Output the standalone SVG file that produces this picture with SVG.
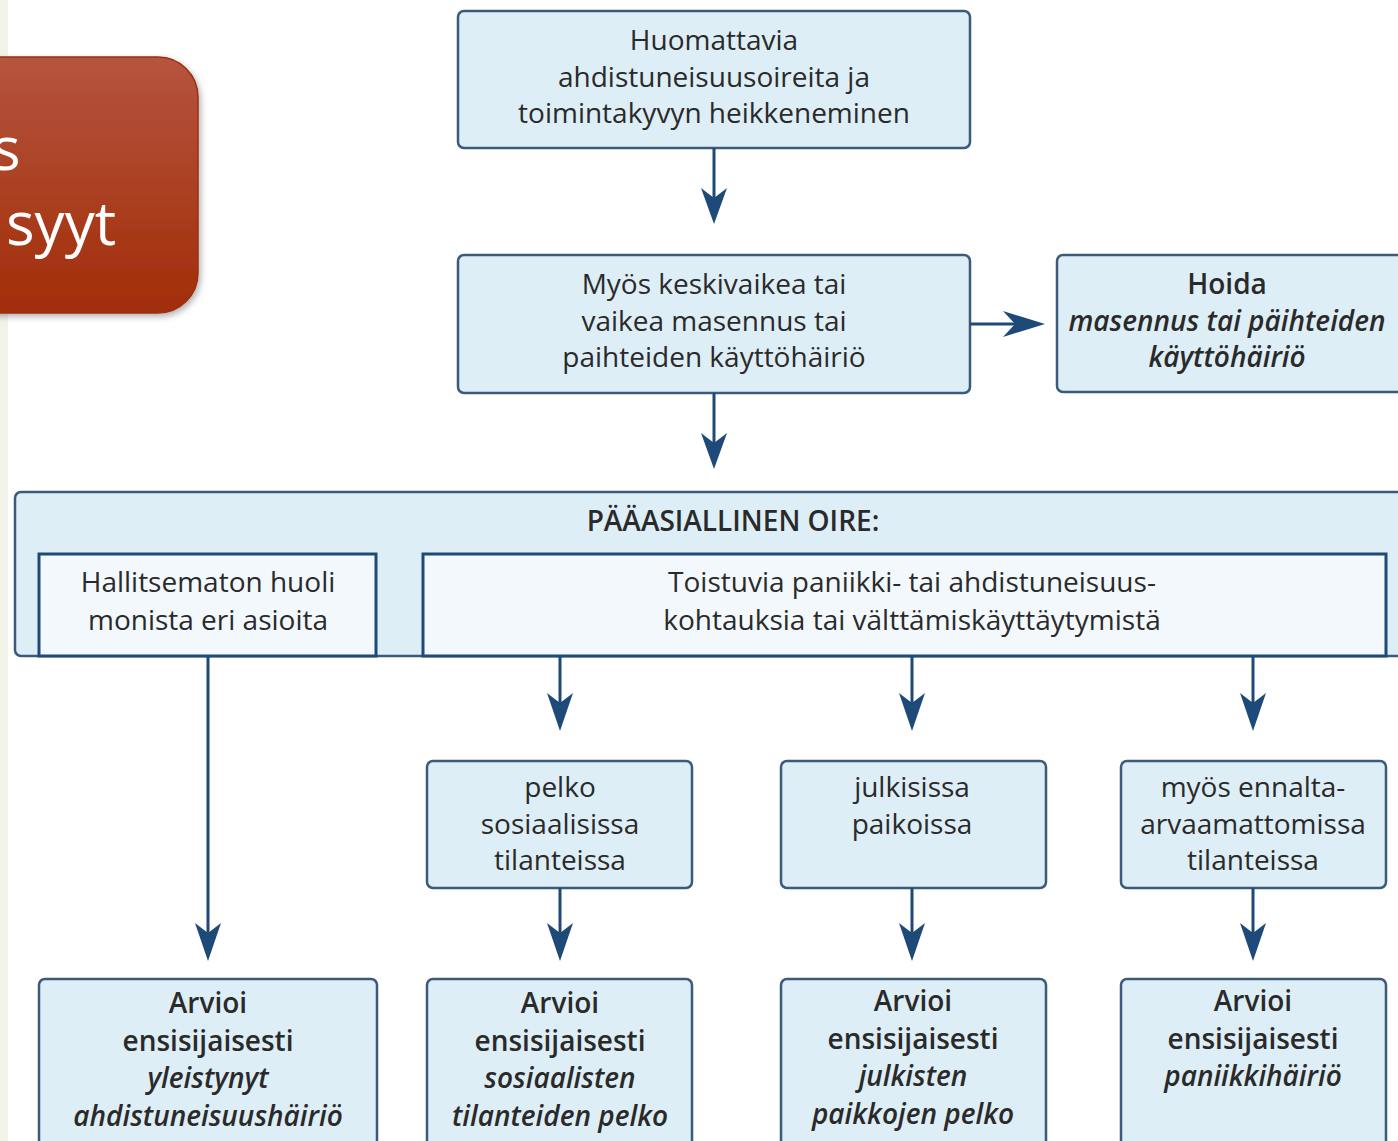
<svg xmlns="http://www.w3.org/2000/svg" width="1398" height="1141" viewBox="0 0 1398 1141">
<defs>
<linearGradient id="red" x1="0" y1="0" x2="0" y2="1">
<stop offset="0" stop-color="#b6543f"/>
<stop offset="1" stop-color="#a12d08"/>
</linearGradient>
<filter id="sh" x="-10%" y="-10%" width="130%" height="130%">
<feDropShadow dx="2" dy="3" stdDeviation="3" flood-color="#000" flood-opacity="0.3"/>
</filter>
</defs>
<style>
.box{fill:#deeef6;stroke:#3c5a7c;stroke-width:2.5}
.inner{fill:#f2f8fc;stroke:#1e4a7a;stroke-width:3}
.t{font-family:"Open Sans","Noto Sans",sans-serif;font-size:28px;fill:#2a2a2a;text-anchor:middle}
.b{font-weight:600}
.i{font-style:italic;font-weight:600}
.ln{stroke:#1e4a7a;stroke-width:3;fill:none}
.ah{fill:#1e4a7a}
.title{font-family:"Open Sans","Noto Sans",sans-serif;font-size:60px;fill:#ffffff}
</style>
<rect x="0" y="0" width="1398" height="1141" fill="#ffffff"/>
<rect x="0" y="0" width="8" height="1141" fill="#f2f4ea"/>

<g id="title-box">
<rect x="-40" y="57" width="238" height="256" rx="40" fill="url(#red)" stroke="#9c2f10" stroke-width="1.5" filter="url(#sh)"/>
<text class="title" x="-8" y="170">s</text>
<text class="title" x="6" y="245">syyt</text>
</g>

<g id="n1">
<rect class="box" x="458" y="11" width="512" height="137" rx="6"/>
<text class="t" x="714" y="50">Huomattavia</text>
<text class="t" x="714" y="87">ahdistuneisuusoireita ja</text>
<text class="t" x="714" y="123">toimintakyvyn heikkeneminen</text>
</g>

<g id="n2">
<rect class="box" x="458" y="255" width="512" height="138" rx="6"/>
<text class="t" x="714" y="294">Myös keskivaikea tai</text>
<text class="t" x="714" y="331">vaikea masennus tai</text>
<text class="t" x="714" y="367">paihteiden käyttöhäiriö</text>
</g>

<g id="n3">
<rect class="box" x="1057" y="255" width="360" height="137" rx="6"/>
<text class="t b" x="1227" y="294">Hoida</text>
<text class="t i" x="1227" y="331">masennus tai päihteiden</text>
<text class="t i" x="1227" y="367">käyttöhäiriö</text>
</g>

<g id="n4">
<rect class="box" x="15" y="492" width="1400" height="164" rx="6"/>
<text class="t b" x="733" y="531">PÄÄASIALLINEN OIRE:</text>
</g>

<g id="n5">
<rect class="inner" x="39" y="554" width="337" height="102"/>
<text class="t" x="208" y="592">Hallitsematon huoli</text>
<text class="t" x="208" y="630">monista eri asioita</text>
</g>

<g id="n6">
<rect class="inner" x="423" y="554" width="963" height="102"/>
<text class="t" x="912" y="592">Toistuvia paniikki- tai ahdistuneisuus-</text>
<text class="t" x="912" y="630">kohtauksia tai välttämiskäyttäytymistä</text>
</g>

<g id="n7">
<rect class="box" x="427" y="761" width="265" height="127" rx="6"/>
<text class="t" x="560" y="797">pelko</text>
<text class="t" x="560" y="834">sosiaalisissa</text>
<text class="t" x="560" y="870">tilanteissa</text>
</g>

<g id="n8">
<rect class="box" x="781" y="761" width="265" height="127" rx="6"/>
<text class="t" x="912" y="797">julkisissa</text>
<text class="t" x="912" y="834">paikoissa</text>
</g>

<g id="n9">
<rect class="box" x="1121" y="761" width="265" height="127" rx="6"/>
<text class="t" x="1253" y="797">myös ennalta-</text>
<text class="t" x="1253" y="834">arvaamattomissa</text>
<text class="t" x="1253" y="870">tilanteissa</text>
</g>

<g id="n10">
<rect class="box" x="39" y="979" width="338" height="180" rx="6"/>
<text class="t b" x="208" y="1013">Arvioi</text>
<text class="t b" x="208" y="1051">ensisijaisesti</text>
<text class="t i" x="208" y="1088">yleistynyt</text>
<text class="t i" x="208" y="1126">ahdistuneisuushäiriö</text>
</g>

<g id="n11">
<rect class="box" x="427" y="979" width="265" height="180" rx="6"/>
<text class="t b" x="560" y="1013">Arvioi</text>
<text class="t b" x="560" y="1051">ensisijaisesti</text>
<text class="t i" x="560" y="1088">sosiaalisten</text>
<text class="t i" x="560" y="1126">tilanteiden pelko</text>
</g>

<g id="n12">
<rect class="box" x="781" y="979" width="265" height="180" rx="6"/>
<text class="t b" x="913" y="1011">Arvioi</text>
<text class="t b" x="913" y="1049">ensisijaisesti</text>
<text class="t i" x="913" y="1086">julkisten</text>
<text class="t i" x="913" y="1124">paikkojen pelko</text>
</g>

<g id="n13">
<rect class="box" x="1121" y="979" width="265" height="180" rx="6"/>
<text class="t b" x="1253" y="1011">Arvioi</text>
<text class="t b" x="1253" y="1049">ensisijaisesti</text>
<text class="t i" x="1253" y="1086">paniikkihäiriö</text>
</g>

<g id="connectors">
<line class="ln" x1="714" y1="148" x2="714" y2="205"/>
<path class="ah" d="M714,224 L701,188 L714,198 L727,188 Z"/>
<line class="ln" x1="714" y1="393" x2="714" y2="450"/>
<path class="ah" d="M714,469 L701,433 L714,443 L727,433 Z"/>
<line class="ln" x1="970" y1="324" x2="1025" y2="324"/>
<path class="ah" d="M1045,324 L1003,311 L1015,324 L1003,337 Z"/>
<line class="ln" x1="208" y1="656" x2="208" y2="942"/>
<path class="ah" d="M208,961 L195,923 L208,933 L221,923 Z"/>
<line class="ln" x1="560" y1="656" x2="560" y2="712"/>
<path class="ah" d="M560,731 L547,693 L560,703 L573,693 Z"/>
<line class="ln" x1="912" y1="656" x2="912" y2="712"/>
<path class="ah" d="M912,731 L899,693 L912,703 L925,693 Z"/>
<line class="ln" x1="1253" y1="656" x2="1253" y2="712"/>
<path class="ah" d="M1253,731 L1240,693 L1253,703 L1266,693 Z"/>
<line class="ln" x1="560" y1="888" x2="560" y2="942"/>
<path class="ah" d="M560,961 L547,923 L560,933 L573,923 Z"/>
<line class="ln" x1="912" y1="888" x2="912" y2="942"/>
<path class="ah" d="M912,961 L899,923 L912,933 L925,923 Z"/>
<line class="ln" x1="1253" y1="888" x2="1253" y2="942"/>
<path class="ah" d="M1253,961 L1240,923 L1253,933 L1266,923 Z"/>
</g>
</svg>
